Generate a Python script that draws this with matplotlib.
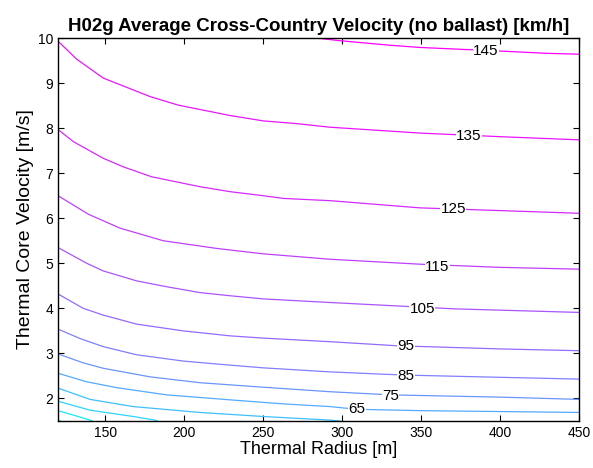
import matplotlib
matplotlib.use("Agg")
import matplotlib.pyplot as plt
from matplotlib.colors import Normalize

plt.rcParams['font.family'] = ['Liberation Sans', 'DejaVu Sans']

# contour lines: thermal radius [m] -> core velocity [m/s]
x_145 = [274.3, 286, 298.6, 330, 349.3, 400, 429.5, 450]
y_145 = [10.0, 9.99, 9.94, 9.84, 9.79, 9.71, 9.66, 9.64]
x_135 = [120, 131.8, 148.7, 178.3, 196.2, 228.9, 250, 271.2, 292.3, 349.3, 400, 450]
y_135 = [9.93, 9.53, 9.11, 8.70, 8.51, 8.28, 8.16, 8.10, 8.02, 7.89, 7.81, 7.74]
x_125 = [120, 129.7, 148.7, 161.4, 179.3, 209.9, 228.9, 250, 262.7, 292.3, 349.3, 400, 450]
y_125 = [7.97, 7.70, 7.33, 7.14, 6.92, 6.70, 6.59, 6.50, 6.44, 6.39, 6.23, 6.17, 6.11]
x_115 = [120, 139.2, 159.3, 186.7, 220.5, 250, 292.3, 349.3, 400, 450]
y_115 = [6.50, 6.09, 5.78, 5.50, 5.33, 5.21, 5.09, 4.98, 4.91, 4.87]
x_105 = [120, 138.2, 148.7, 169.8, 188.8, 209.9, 228.9, 250, 292.3, 370.4, 400, 450]
y_105 = [5.35, 5.00, 4.83, 4.61, 4.48, 4.35, 4.28, 4.21, 4.13, 3.99, 3.96, 3.91]
x_95 = [120, 136, 148.7, 169.8, 199.4, 228.9, 250, 292.3, 334.6, 400, 450]
y_95 = [4.32, 4.00, 3.85, 3.65, 3.50, 3.39, 3.34, 3.26, 3.17, 3.10, 3.06]
x_85 = [120, 134, 148.7, 169.8, 199.4, 228.9, 250, 292.3, 338.7, 400, 450]
y_85 = [3.54, 3.33, 3.15, 2.97, 2.83, 2.74, 2.68, 2.59, 2.52, 2.47, 2.43]
x_75 = [120, 136, 148.7, 178.3, 209.9, 250, 292.3, 330.7, 400, 450]
y_75 = [2.99, 2.79, 2.67, 2.48, 2.35, 2.25, 2.15, 2.08, 2.03, 1.98]
x_65 = [120, 138.2, 157.2, 188.8, 228.9, 262.7, 292.3, 309.2, 349.3, 400, 450]
y_65 = [2.56, 2.37, 2.24, 2.08, 1.97, 1.88, 1.82, 1.76, 1.73, 1.71, 1.69]
x_55 = [120, 140.3, 167.7, 209.9, 250, 292.3, 298.6]
y_55 = [2.23, 1.98, 1.82, 1.69, 1.60, 1.52, 1.50]
x_45 = [120, 140.3, 167.7, 181.4, 183]
y_45 = [1.94, 1.74, 1.60, 1.52, 1.50]
x_35 = [120, 131.8, 140.3, 141.5]
y_35 = [1.73, 1.61, 1.52, 1.50]
x_25 = [120, 121.5]
y_25 = [1.53, 1.50]

levels = [145, 135, 125, 115, 105, 95, 85, 75, 65, 55, 45, 35, 25]
xs = [x_145, x_135, x_125, x_115, x_105, x_95, x_85, x_75, x_65, x_55, x_45, x_35, x_25]
ys = [y_145, y_135, y_125, y_115, y_105, y_95, y_85, y_75, y_65, y_55, y_45, y_35, y_25]

# inline labels (level, radius, velocity)
label_levels = [145, 135, 125, 115, 105, 95, 85, 75, 65]
label_x = [390.9, 380.3, 370.4, 360.2, 350.8, 340.4, 340.4, 330.7, 309.2]
label_y = [9.72, 7.83, 6.21, 4.92, 3.98, 3.16, 2.51, 2.06, 1.76]

fig = plt.figure(figsize=(5.93, 4.68), dpi=100)
ax = fig.add_axes([0.0978, 0.1004, 0.8786, 0.8184])

norm = Normalize(vmin=25, vmax=145)
for lev, x, y in zip(levels, xs, ys):
    ax.plot(x, y, color=plt.cm.cool(norm(lev)), lw=0.9)

for lev, lx, ly in zip(label_levels, label_x, label_y):
    ax.text(lx, ly, str(lev), fontsize=11, ha='center', va='center',
            bbox=dict(facecolor='white', edgecolor='none', pad=0.2))

ax.set_xlim(120, 450)
ax.set_ylim(1.5, 10)
ax.set_xticks([150, 200, 250, 300, 350, 400, 450])
ax.set_yticks([2, 3, 4, 5, 6, 7, 8, 9, 10])
ax.tick_params(direction='in', top=True, right=True, labelsize=10, length=4)
for s in ax.spines.values():
    s.set_linewidth(1.0)

ax.set_title("H02g Average Cross-Country Velocity (no ballast) [km/h]",
             fontsize=13.5, fontweight='bold', pad=5)
ax.set_xlabel("Thermal Radius [m]", fontsize=13, labelpad=1)
ax.set_ylabel("Thermal Core Velocity [m/s]", fontsize=14, labelpad=3)

fig.savefig("out.png", dpi=100)
